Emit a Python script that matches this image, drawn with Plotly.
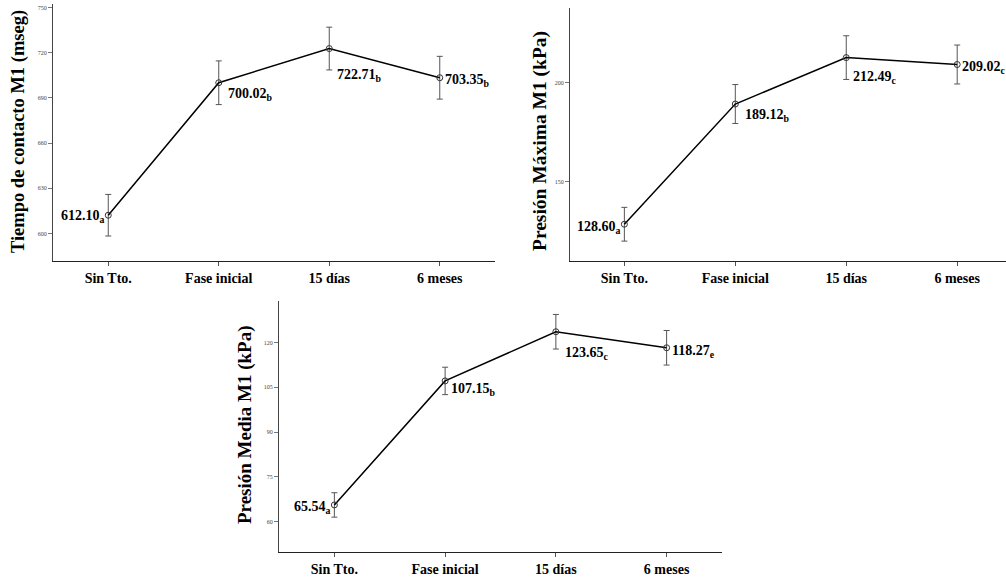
import plotly.graph_objects as go

categories = ["Sin Tto.", "Fase inicial", "15 días", "6 meses"]

contacto_vals = [612.10, 700.02, 722.71, 703.35]
contacto_err = [13.8, 14.5, 14.2, 14.2]
contacto_letters = ["a", "b", "b", "b"]

maxima_vals = [128.60, 189.12, 212.49, 209.02]
maxima_err = [8.5, 9.8, 11.0, 9.8]
maxima_letters = ["a", "b", "c", "c"]

media_vals = [65.54, 107.15, 123.65, 118.27]
media_err = [4.1, 4.6, 5.8, 5.8]
media_letters = ["a", "b", "c", "e"]

contacto_ticks = [600, 630, 660, 690, 720, 750]
maxima_ticks = [150, 200]
media_ticks = [60, 75, 90, 105, 120]

W, H = 1006, 577
FONT = "Liberation Serif"

def px(x):
    return x / W

def py(y):
    return 1 - y / H

fig = go.Figure()

panels = [
    dict(vals=contacto_vals, err=contacto_err, letters=contacto_letters, xa="x", ya="y",
         title="Tiempo de contacto M1 (mseg)", title_xy=(18, 133), tsize=18.5,
         offs=[("right", -1, -1), ("left", 7, -12), ("left", 6, -27), ("left", 3, -3)]),
    dict(vals=maxima_vals, err=maxima_err, letters=maxima_letters, xa="x2", ya="y2",
         title="Presión Máxima M1 (kPa)", title_xy=(540, 142), tsize=19.5,
         offs=[("right", -1, -3), ("left", 8, -11), ("left", 5, -20), ("left", 3, -3)]),
    dict(vals=media_vals, err=media_err, letters=media_letters, xa="x3", ya="y3",
         title="Presión Media M1 (kPa)", title_xy=(245, 428), tsize=19,
         offs=[("right", -1, -3), ("left", 4, -9), ("left", 7, -22), ("left", 3, -4)]),
]

for p in panels:
    fig.add_trace(go.Scatter(
        x=categories, y=p["vals"], mode="lines+markers",
        xaxis=p["xa"], yaxis=p["ya"],
        line=dict(color="black", width=1.5),
        marker=dict(symbol="circle-open", size=6, color="#333", line=dict(width=1)),
        error_y=dict(type="data", array=p["err"], visible=True, color="#555", thickness=1, width=3),
        showlegend=False, hoverinfo="skip",
    ))
    for c, v, l, (xa, xs, ys) in zip(categories, p["vals"], p["letters"], p["offs"]):
        fig.add_annotation(
            x=c, y=v, xref=p["xa"], yref=p["ya"],
            text=f"<b>{v:.2f}<sub>{l}</sub></b>", showarrow=False,
            xanchor=xa, yanchor="middle", xshift=xs, yshift=ys,
            font=dict(family=FONT, size=14, color="black"),
        )
    tx, ty = p["title_xy"]
    fig.add_annotation(
        x=px(tx), y=py(ty), xref="paper", yref="paper",
        text=f"<b>{p['title']}</b>", showarrow=False, textangle=-90,
        xanchor="center", yanchor="middle",
        font=dict(family=FONT, size=p["tsize"], color="black"),
    )

xcommon = dict(type="category", categoryorder="array", categoryarray=categories,
               showline=True, linecolor="#222", linewidth=1, ticks="outside", ticklen=4,
               tickcolor="#555", showgrid=False, zeroline=False,
               tickfont=dict(family=FONT, size=14, color="black"))
ycommon = dict(showline=True, linecolor="#444", linewidth=1, ticks="outside", ticklen=4,
               tickcolor="#777", showgrid=False, zeroline=False,
               tickfont=dict(family=FONT, size=6, color="#444"))

fig.update_layout(
    width=W, height=H,
    margin=dict(l=0, r=0, t=0, b=0),
    paper_bgcolor="white", plot_bgcolor="white",
    xaxis=dict(domain=[px(53), px(495)], range=[-0.5, 3.5], anchor="y",
               tickvals=categories, ticktext=[f"<b>{c}</b>" for c in categories], **xcommon),
    yaxis=dict(domain=[py(263), py(4)], range=[581.6, 752.3], anchor="x",
               tickvals=contacto_ticks, **ycommon),
    xaxis2=dict(domain=[px(570), 1.0], range=[-0.49, 3.44], anchor="y2",
                tickvals=categories, ticktext=[f"<b>{c}</b>" for c in categories], **xcommon),
    yaxis2=dict(domain=[py(263), py(8)], range=[110, 237.5], anchor="x2",
                tickvals=maxima_ticks, **ycommon),
    xaxis3=dict(domain=[px(279), px(722)], range=[-0.5, 3.5], anchor="y3",
                tickvals=categories, ticktext=[f"<b>{c}</b>" for c in categories], **xcommon),
    yaxis3=dict(domain=[py(556), py(303)], range=[49.7, 134], anchor="x3",
                tickvals=media_ticks, **ycommon),
)

fig.write_html("out.html")
